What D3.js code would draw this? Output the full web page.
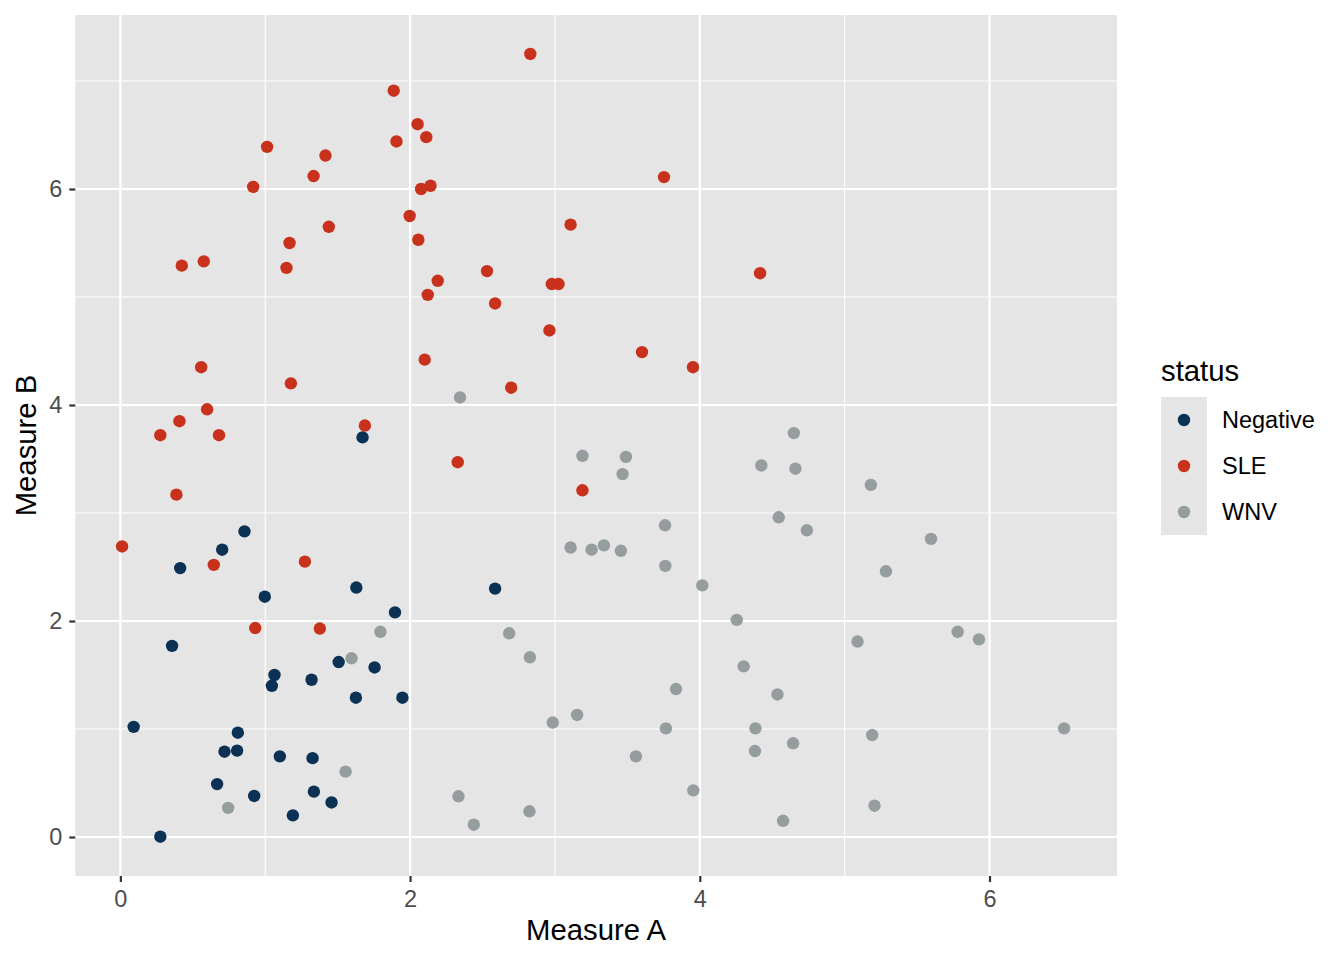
<!DOCTYPE html>
<html>
<head>
<meta charset="utf-8">
<script src="https://cdn.jsdelivr.net/npm/d3@7"></script>
<style>
  body { margin: 0; background: #fff; }
  text { font-family: "Liberation Sans", Arial, sans-serif; }
</style>
</head>
<body>
<svg id="chart" width="1344" height="960"></svg>
<script>
// values
const statusLevels = ["Negative", "SLE", "WNV"];
const statusColors = ["#0b3154", "#c8311c", "#959d9f"];

const negA = [1.672, 0.857, 0.703, 0.413, 1.629, 2.587, 0.997, 1.896, 0.357, 1.507, 1.755, 1.064, 1.046, 1.320,
  1.626, 1.947, 0.092, 0.811, 0.719, 0.806, 1.101, 1.327, 0.668, 0.924, 1.336, 1.458, 1.191, 0.276];
const negB = [3.70, 2.83, 2.66, 2.49, 2.31, 2.30, 2.225, 2.08, 1.77, 1.62, 1.57, 1.50, 1.40, 1.456,
  1.29, 1.29, 1.02, 0.966, 0.79, 0.80, 0.747, 0.73, 0.49, 0.38, 0.42, 0.32, 0.20, 0.003];

const sleA = [2.830, 1.887, 2.052, 2.112, 1.906, 1.013, 1.416, 1.334, 3.753, 0.917, 2.076, 2.141, 1.997, 3.108,
  1.439, 1.168, 2.057, 0.424, 0.576, 1.147, 2.531, 4.416, 2.191, 2.122, 2.978, 3.025, 2.587, 2.962,
  2.101, 3.601, 3.953, 0.558, 1.177, 2.698, 0.599, 0.408, 0.276, 0.681, 1.688, 2.329, 3.190, 0.387,
  0.012, 0.645, 1.274, 0.931, 1.377];
const sleB = [7.25, 6.91, 6.60, 6.48, 6.44, 6.39, 6.31, 6.12, 6.11, 6.02, 6.00, 6.03, 5.75, 5.67,
  5.65, 5.50, 5.53, 5.29, 5.33, 5.27, 5.24, 5.22, 5.15, 5.02, 5.12, 5.12, 4.94, 4.69,
  4.42, 4.49, 4.35, 4.35, 4.20, 4.16, 3.96, 3.85, 3.72, 3.72, 3.81, 3.47, 3.21, 3.17,
  2.69, 2.52, 2.55, 1.935, 1.93];

const wnvA = [2.345, 3.190, 4.649, 3.490, 3.467, 4.425, 4.660, 5.181, 3.760, 4.545, 4.739, 5.596, 3.338, 3.455,
  3.253, 3.108, 3.762, 5.285, 4.017, 4.255, 5.089, 5.780, 5.927, 1.795, 2.684, 2.827, 1.596, 4.303,
  3.836, 4.536, 2.985, 3.153, 3.766, 4.384, 6.515, 5.190, 3.559, 4.644, 4.381, 1.555, 3.955, 5.206,
  4.575, 2.334, 2.440, 2.824, 0.744];
const wnvB = [4.07, 3.53, 3.74, 3.52, 3.36, 3.44, 3.41, 3.26, 2.886, 2.96, 2.84, 2.76, 2.70, 2.65,
  2.66, 2.68, 2.51, 2.46, 2.33, 2.01, 1.81, 1.90, 1.83, 1.90, 1.886, 1.664, 1.655, 1.58,
  1.37, 1.32, 1.06, 1.13, 1.006, 1.006, 1.006, 0.944, 0.747, 0.868, 0.796, 0.605, 0.432, 0.29,
  0.15, 0.377, 0.114, 0.238, 0.27];

const xTicks = [0, 2, 4, 6];
const yTicks = [0, 2, 4, 6];
const xMinor = [1, 3, 5];
const yMinor = [1, 3, 5, 7];

// build one row per point
const points = [];
negA.forEach((a, i) => points.push({a, b: negB[i], status: "Negative"}));
sleA.forEach((a, i) => points.push({a, b: sleB[i], status: "SLE"}));
wnvA.forEach((a, i) => points.push({a, b: wnvB[i], status: "WNV"}));

const panel = {left: 75.3, right: 1117, top: 15, bottom: 876};
const panelFill = "#e5e5e5";

const x = d3.scaleLinear().domain([-0.311, 6.88]).range([panel.left, panel.right]);
const y = d3.scaleLinear().domain([-0.361, 7.611]).range([panel.bottom, panel.top]);
const color = d3.scaleOrdinal().domain(statusLevels).range(statusColors);

const svg = d3.select("#chart");

// panel background
svg.append("rect")
  .attr("x", panel.left).attr("y", panel.top)
  .attr("width", panel.right - panel.left).attr("height", panel.bottom - panel.top)
  .attr("fill", panelFill);

const grid = svg.append("g");
// minor grid
grid.selectAll(".vminor").data(xMinor).enter().append("line")
  .attr("x1", d => x(d)).attr("x2", d => x(d))
  .attr("y1", panel.top).attr("y2", panel.bottom)
  .attr("stroke", "#fff").attr("stroke-width", 1.1);
grid.selectAll(".hminor").data(yMinor).enter().append("line")
  .attr("y1", d => y(d)).attr("y2", d => y(d))
  .attr("x1", panel.left).attr("x2", panel.right)
  .attr("stroke", "#fff").attr("stroke-width", 1.1);
// major grid
grid.selectAll(".vmajor").data(xTicks).enter().append("line")
  .attr("x1", d => x(d)).attr("x2", d => x(d))
  .attr("y1", panel.top).attr("y2", panel.bottom)
  .attr("stroke", "#fff").attr("stroke-width", 2.2);
grid.selectAll(".hmajor").data(yTicks).enter().append("line")
  .attr("y1", d => y(d)).attr("y2", d => y(d))
  .attr("x1", panel.left).attr("x2", panel.right)
  .attr("stroke", "#fff").attr("stroke-width", 2.2);

// points
svg.append("g").selectAll("circle")
  .data(points)
  .enter()
  .append("circle")
  .attr("cx", d => x(d.a))
  .attr("cy", d => y(d.b))
  .attr("r", 6.2)
  .attr("fill", d => color(d.status));

// axes
const xAxis = svg.append("g")
  .attr("transform", `translate(0,${panel.bottom})`)
  .call(d3.axisBottom(x).tickValues(xTicks).tickSize(6).tickPadding(8).tickFormat(d3.format("d")));
const yAxis = svg.append("g")
  .attr("transform", `translate(${panel.left},0)`)
  .call(d3.axisLeft(y).tickValues(yTicks).tickSize(6).tickPadding(7).tickFormat(d3.format("d")));

[xAxis, yAxis].forEach(g => {
  g.select(".domain").remove();
  g.selectAll(".tick line").attr("stroke", "#333").attr("stroke-width", 2.2);
  g.selectAll(".tick text")
    .attr("fill", "#4d4d4d")
    .style("font-size", "23.5px")
    .style("font-family", "'Liberation Sans', Arial, sans-serif");
});

// axis titles
svg.append("text")
  .attr("x", (panel.left + panel.right) / 2)
  .attr("y", 940)
  .attr("text-anchor", "middle")
  .style("font-size", "29.3px")
  .text("Measure A");

svg.append("text")
  .attr("transform", `translate(36,${(panel.top + panel.bottom) / 2}) rotate(-90)`)
  .attr("text-anchor", "middle")
  .style("font-size", "29.3px")
  .text("Measure B");

// legend
const legend = svg.append("g").attr("transform", "translate(1161,397)");
legend.append("text")
  .attr("x", 0).attr("y", -16)
  .style("font-size", "29.3px")
  .text("status");

const keys = legend.selectAll(".key")
  .data(statusLevels)
  .enter()
  .append("g")
  .attr("transform", (d, i) => `translate(0,${i * 46})`);

keys.append("rect")
  .attr("width", 46).attr("height", 46)
  .attr("fill", panelFill);
keys.append("circle")
  .attr("cx", 23).attr("cy", 23).attr("r", 6.2)
  .attr("fill", d => color(d));
keys.append("text")
  .attr("x", 61).attr("y", 23)
  .attr("dy", "0.35em")
  .style("font-size", "23.5px")
  .text(d => d);
</script>
</body>
</html>
